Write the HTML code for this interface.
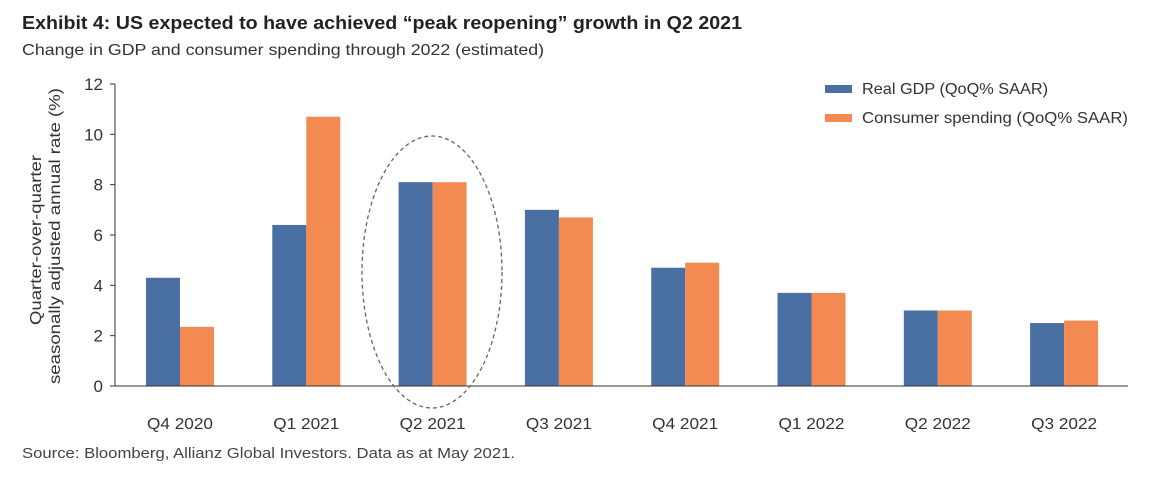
<!DOCTYPE html>
<html><head><meta charset="utf-8"><style>
body{margin:0;background:#fff;font-family:"Liberation Sans",sans-serif;}
svg text{font-family:"Liberation Sans",sans-serif;}
</style></head><body>
<svg width="1152" height="473" xmlns="http://www.w3.org/2000/svg">
<text x="22" y="29" font-size="18" font-weight="bold" fill="#222" textLength="720" lengthAdjust="spacingAndGlyphs">Exhibit 4: US expected to have achieved “peak reopening” growth in Q2 2021</text>
<text x="22" y="55" font-size="16" fill="#333" textLength="522" lengthAdjust="spacingAndGlyphs">Change in GDP and consumer spending through 2022 (estimated)</text>
<text x="22" y="458" font-size="15" fill="#444" textLength="493" lengthAdjust="spacingAndGlyphs">Source: Bloomberg, Allianz Global Investors. Data as at May 2021.</text>
<text transform="translate(41,240) rotate(-90)" text-anchor="middle" font-size="16" fill="#333" textLength="170" lengthAdjust="spacingAndGlyphs">Quarter-over-quarter</text>
<text transform="translate(60,236) rotate(-90)" text-anchor="middle" font-size="16" fill="#333" textLength="296" lengthAdjust="spacingAndGlyphs">seasonally adjusted annual rate (%)</text>
<g id="plot"></g>
<ellipse cx="432" cy="272" rx="70" ry="136" fill="none" stroke="#666" stroke-width="1.3" stroke-dasharray="4,3"/>
<rect x="825" y="85" width="27" height="8" fill="#4a6fa2"/>
<text x="862" y="94" font-size="16" fill="#333" textLength="186" lengthAdjust="spacingAndGlyphs">Real GDP (QoQ% SAAR)</text>
<rect x="825" y="114" width="27" height="8" fill="#f28a52"/>
<text x="862" y="123" font-size="16" fill="#333" textLength="266" lengthAdjust="spacingAndGlyphs">Consumer spending (QoQ% SAAR)</text>
</svg>
<script>
const categories=["Q4 2020","Q1 2021","Q2 2021","Q3 2021","Q4 2021","Q1 2022","Q2 2022","Q3 2022"];
const gdp=[4.3,6.4,8.1,7.0,4.7,3.7,3.0,2.5];
const consumer=[2.35,10.7,8.1,6.7,4.9,3.7,3.0,2.6];
const yTicks=[0,2,4,6,8,10,12];
const NS="http://www.w3.org/2000/svg";
const g=document.getElementById('plot');
const y0=386,yTop=84,yMax=12,axX=115,first=180,step=126.3,bw=34;
const y=v=>y0-(v/yMax)*(y0-yTop);
const xc=i=>first+i*step;
function mk(t,a){const e=document.createElementNS(NS,t);for(const k in a)e.setAttribute(k,a[k]);g.appendChild(e);return e;}
yTicks.forEach(v=>{
 const l=mk('line',{x1:axX-5,x2:axX,y1:y(v),y2:y(v),stroke:'#333'});
 
 
 const t=mk('text',{x:axX-12,y:y(v)+6,'text-anchor':'end','font-size':17,fill:'#333'});
 t.textContent=v;
 
 
});
categories.forEach((c,i)=>{
 const b=mk('rect',{x:xc(i)-bw,y:y(gdp[i]),width:bw,height:y0-y(gdp[i]),fill:'#4a6fa2'});
 
 
 const o=mk('rect',{x:xc(i),y:y(consumer[i]),width:bw,height:y0-y(consumer[i]),fill:'#f28a52'});
 
 
 const t=mk('text',{x:xc(i),y:429,'text-anchor':'middle','font-size':16,fill:'#333',textLength:66,lengthAdjust:'spacingAndGlyphs'});
 t.textContent=c;
 
 
});
const ya=mk('line',{x1:axX,x2:axX,y1:yTop,y2:y0,stroke:'#333','stroke-width':1});


const xa=mk('line',{x1:axX,x2:1128,y1:y0,y2:y0,stroke:'#333','stroke-width':1});


</script>
</body></html>
